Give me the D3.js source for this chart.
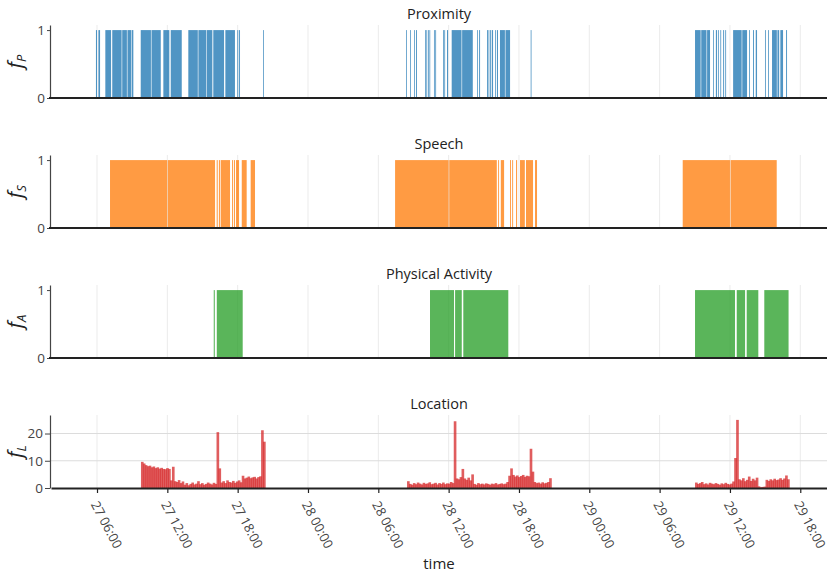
<!DOCTYPE html>
<html>
<head>
<meta charset="utf-8">
<script src="https://cdn.jsdelivr.net/npm/d3@7"></script>
<style>
  body { margin: 0; background: #fff; }
  text { font-family: "Open Sans", sans-serif; }
</style>
</head>
<body>
<div id="chart"></div>
<script>
// all times are hours since day 27, 00:00
const proximity = [
  [5.91, 6.0], [6.12, 6.26],
  [6.71, 7.2], [7.3, 8.1], [8.15, 8.55], [8.6, 8.9], [8.95, 9.1],
  [9.73, 10.6], [10.65, 11.44], [11.66, 12.17], [12.29, 13.23],
  [13.79, 14.6], [14.65, 15.3], [15.35, 15.84], [15.92, 16.84], [16.95, 17.77], [17.97, 18.05], [18.12, 18.2],
  [20.17, 20.22],
  [32.37, 32.43], [32.71, 32.77], [33.05, 33.1], [33.22, 33.3], [33.99, 34.05], [34.1, 34.16], [34.24, 34.3],
  [34.36, 34.41], [34.75, 34.8], [34.86, 34.92], [35.52, 35.58], [35.63, 35.69], [35.86, 35.95],
  [36.26, 37.1], [37.15, 38.06], [38.42, 38.48], [38.6, 38.68], [39.28, 39.4], [39.5, 39.6], [39.68, 39.79],
  [39.96, 40.02], [40.12, 40.21], [40.38, 40.8], [40.85, 41.24], [43.0, 43.06],
  [57.02, 57.5], [57.55, 58.0], [58.05, 58.3], [58.56, 58.62], [58.8, 58.9], [58.99, 59.05], [59.18, 59.25],
  [59.42, 59.5], [59.6, 59.67], [60.27, 61.0], [61.05, 61.46], [61.63, 61.7], [61.97, 62.05], [62.2, 62.31],
  [62.99, 63.06], [63.25, 63.32], [63.59, 64.0], [64.05, 64.2], [64.3, 64.53], [64.79, 64.87]
];

const speech = [
  [7.11, 12.0], [12.05, 16.07], [16.21, 16.3], [16.4, 16.49], [16.55, 17.35], [17.52, 17.6], [17.68, 17.77],
  [17.86, 18.12], [18.35, 18.77], [19.11, 19.48],
  [31.43, 36.0], [36.05, 40.11], [40.22, 40.3], [40.45, 40.73], [41.24, 41.32], [41.42, 41.5], [41.75, 41.84],
  [42.09, 42.5], [42.6, 43.2], [43.37, 43.54],
  [55.97, 60.0], [60.05, 63.99]
];

const activity = [
  [15.96, 16.05], [16.22, 18.43],
  [34.41, 36.46], [36.55, 37.12], [37.25, 41.09],
  [57.02, 60.43], [60.58, 61.29], [61.43, 62.42], [62.93, 65.0]
];

// location: evenly sampled values inside each recorded stretch
const locStarts = [9.75, 32.45, 57.02];
const locEnds = [20.33, 44.74, 65.04];
const locValues1 = [
  9.6, 9.0, 8.4, 8.0, 8.2, 7.6, 7.9, 7.3, 7.6, 7.1, 7.4, 7.0, 6.9, 7.3, 7.0,
  2.8, 7.8, 2.5, 2.2, 2.9, 1.8, 2.4,
  1.2, 1.8, 1.0, 1.5, 2.0, 1.3, 1.6, 2.5, 1.4, 1.8, 1.2, 1.5, 2.0, 1.6, 1.3, 1.9, 1.5,
  20.5, 7.2,
  2.0, 2.5, 1.8, 2.8, 2.2, 2.0, 2.6, 1.9, 2.4, 2.8, 2.1,
  4.5, 3.5, 3.8, 4.2, 3.6, 3.9, 4.1, 3.5, 4.0, 4.3,
  21.2, 17.0
];
const locValues2 = [
  2.5, 1.5, 1.2, 1.8, 1.4, 2.0, 1.6, 1.3, 1.9, 1.5, 1.7, 2.1, 1.4, 1.6, 1.9, 1.3, 1.8, 1.5, 2.0, 1.4, 1.7, 1.6, 2.2, 1.8,
  24.5, 3.5,
  3.2, 4.0, 7.0, 3.5, 3.0, 3.8, 2.8, 5.0,
  1.5, 1.2, 1.8, 1.4, 1.6, 1.3, 1.7, 1.5, 1.2, 1.6, 1.4, 1.8, 1.3, 1.5, 1.7, 1.4, 1.6, 2.2,
  4.5, 7.2, 4.8, 4.2, 4.6, 4.0, 4.4, 4.8, 4.1, 4.5, 4.3,
  14.4, 6.0,
  2.2, 1.8, 2.0, 1.6, 2.1, 1.7, 1.9, 2.2, 3.6
];
const locValues3 = [
  2.0, 1.5, 1.8, 2.2, 1.4, 1.7, 1.3, 1.9, 1.6, 1.4, 1.8, 1.5, 1.2, 1.7, 1.4, 1.9, 1.5, 1.3, 1.6, 2.4,
  11.0, 25.0,
  3.2, 2.8, 3.6, 2.5, 3.0, 4.2, 2.6, 3.4, 2.8, 3.8,
  0.6, 0.3, 0.4, 0.5,
  3.0, 2.6, 3.2, 2.8, 3.4, 2.9, 3.1, 3.6, 3.0, 3.5, 4.6, 3.2
];

const titles = ["Proximity", "Speech", "Physical Activity", "Location"];
const subs = ["P", "S", "A", "L"];
const colors = ["#1f77b4", "#ff7f0e", "#2ca02c", "#d62728"];

const width = 827, height = 574;
const left = 51, right = 827;
const panelH = 73, panelStep = 130, firstTop = 25;

const base = new Date(2020, 0, 27);
const t = h => new Date(base.getTime() + h * 3600e3);

const x = d3.scaleTime()
  .domain([t(2.075), t(68.28)])
  .range([left, right]);
const xTicks = x.ticks(d3.timeHour.every(6));

// flatten location samples to [start, end, value]
let locBars = [];
[locValues1, locValues2, locValues3].forEach((vals, k) => {
  const step = (locEnds[k] - locStarts[k]) / vals.length;
  vals.forEach((v, i) => locBars.push([locStarts[k] + i * step, locStarts[k] + (i + 1) * step, v]));
});

const svg = d3.select("#chart").append("svg")
  .attr("width", width)
  .attr("height", height);

[proximity, speech, activity, locBars].forEach((data, p) => {
  const top = firstTop + p * panelStep;
  const isLoc = p === 3;
  const y = d3.scaleLinear()
    .domain([0, isLoc ? 26.8 : 1.075])
    .range([panelH, 0]);

  const g = svg.append("g").attr("transform", "translate(0," + top + ")");

  // vertical grid
  g.append("g").selectAll("line")
    .data(xTicks)
    .join("line")
    .attr("x1", d => x(d)).attr("x2", d => x(d))
    .attr("y1", 0).attr("y2", panelH)
    .attr("stroke", "#ebebeb")
    .attr("stroke-width", 1);

  if (isLoc) {
    g.append("g").selectAll("line")
      .data([10, 20])
      .join("line")
      .attr("x1", left).attr("x2", right)
      .attr("y1", d => y(d)).attr("y2", d => y(d))
      .attr("stroke", "#dcdcdc")
      .attr("stroke-width", 1.2);
  }

  // bars
  g.append("g").selectAll("rect")
    .data(data)
    .join("rect")
    .attr("x", d => x(t(d[0])))
    .attr("width", d => Math.max(x(t(d[1])) - x(t(d[0])) + (isLoc ? 0.7 : 0), 0.8))
    .attr("y", d => y(isLoc ? d[2] : 1))
    .attr("height", d => panelH - y(isLoc ? d[2] : 1))
    .attr("fill", colors[p])
    .attr("fill-opacity", isLoc ? 0.75 : 0.78);

  // y axis
  const yAxis = d3.axisLeft(y)
    .tickValues(isLoc ? [0, 10, 20] : [0, 1])
    .tickFormat(d3.format("d"))
    .tickSize(isLoc ? 5 : 3)
    .tickSizeOuter(0)
    .tickPadding(2);
  const ya = g.append("g")
    .attr("transform", "translate(" + (left - 1) + ",0)")
    .call(yAxis);
  ya.select(".domain").attr("stroke", "#444").attr("stroke-width", 1.2);
  ya.selectAll(".tick line").attr("stroke", "#444");
  ya.selectAll("text")
    .attr("font-size", 13.5)
    .attr("fill", "#444")
    .attr("font-family", "Open Sans");

  // x baseline / axis
  if (isLoc) {
    const xAxis = d3.axisBottom(x)
      .tickValues(xTicks)
      .tickSize(5)
      .tickSizeOuter(0)
      .tickFormat(d3.timeFormat("%d %H:%M"));
    const xa = g.append("g")
      .attr("transform", "translate(0," + panelH + ")")
      .call(xAxis);
    xa.select(".domain").attr("stroke", "#222").attr("stroke-width", 2);
    xa.selectAll(".tick line").attr("stroke", "#222").attr("stroke-width", 1.2);
    xa.selectAll("text")
      .attr("font-size", 13)
      .attr("fill", "#444")
      .attr("font-family", "Open Sans")
      .attr("text-anchor", "start")
      .attr("transform", "translate(-3,14) rotate(62)")
      .attr("dy", "0.35em")
      .attr("y", 0);
  } else {
    g.append("line")
      .attr("x1", left - 2).attr("x2", right)
      .attr("y1", panelH).attr("y2", panelH)
      .attr("stroke", "#222")
      .attr("stroke-width", 2);
  }

  // panel title
  svg.append("text")
    .attr("x", (left + right) / 2)
    .attr("y", top - 6)
    .attr("text-anchor", "middle")
    .attr("font-size", 14.5)
    .attr("fill", "#222")
    .text(titles[p]);

  // y label f_X
  const lab = svg.append("text")
    .attr("transform", "translate(22," + (top + panelH / 2) + ") rotate(-90)")
    .attr("text-anchor", "middle")
    .attr("font-family", "Liberation Serif")
    .attr("font-style", "italic")
    .attr("font-size", 20)
    .attr("fill", "#222");
  lab.append("tspan").text("f");
  lab.append("tspan")
    .attr("font-size", 13)
    .attr("dy", 4)
    .text(subs[p]);
});

svg.append("text")
  .attr("x", (left + right) / 2)
  .attr("y", 569)
  .attr("text-anchor", "middle")
  .attr("font-size", 15)
  .attr("fill", "#222")
  .text("time");
</script>
</body>
</html>
